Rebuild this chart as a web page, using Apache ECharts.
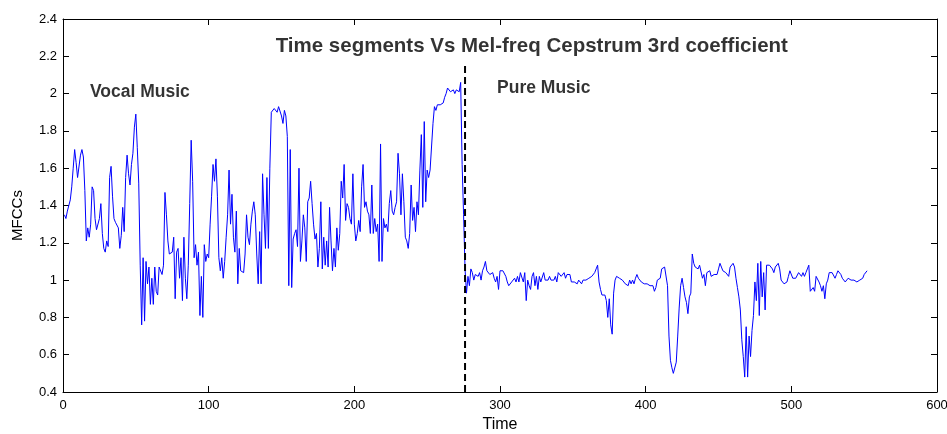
<!DOCTYPE html>
<html>
<head>
<meta charset="utf-8">
<title>Time segments Vs Mel-freq Cepstrum 3rd coefficient</title>
<script src="https://cdn.jsdelivr.net/npm/echarts@6/dist/echarts.min.js"></script>
<style>
  html, body { margin: 0; padding: 0; background: #fff; }
  #chart { width: 947px; height: 434px; }
</style>
</head>
<body>
<div id="chart"></div>
<script>
// 3rd mel-frequency cepstral coefficient per time segment (segments 1..552)
const startTime = 1;
const mfcc3 = [
  // vocal music, segments 1-137
  1.35,1.33,1.37,1.38,1.43,1.50,1.60,1.70,1.63,1.55,
  1.54,1.67,1.70,1.66,1.48,1.21,1.28,1.23,1.30,1.50,
  1.48,1.33,1.27,1.28,1.33,1.41,1.25,1.17,1.15,1.21,
  1.18,1.55,1.61,1.45,1.33,1.31,1.32,1.28,1.17,1.24,
  1.39,1.26,1.55,1.67,1.57,1.51,1.62,1.68,1.82,1.89,
  1.71,1.52,1.08,0.76,1.12,0.78,1.10,0.98,1.07,0.87,
  1.01,0.87,1.07,0.94,0.92,1.07,1.08,1.03,1.08,1.47,
  1.35,1.21,1.14,1.15,1.15,1.23,0.90,1.15,1.17,1.01,
  1.12,0.89,1.23,1.01,0.90,1.08,1.41,1.75,1.53,1.12,
  1.19,1.08,1.15,0.81,1.02,0.80,1.19,1.10,1.14,1.12,
  1.30,1.45,1.62,1.53,1.65,1.45,1.12,1.05,1.12,1.01,
  1.10,1.23,1.35,1.59,1.30,1.46,1.23,1.15,1.37,0.98,
  1.17,1.05,1.05,1.04,1.14,1.35,1.23,1.19,1.30,1.37,
  1.42,1.35,1.14,0.98,1.26,0.98,1.57,
  // vocal music, segments 138-275
  1.35,1.17,1.55,1.17,1.60,1.90,1.91,1.92,1.93,1.90,
  1.93,1.92,1.88,1.84,1.91,1.88,1.77,0.97,1.70,0.96,
  1.22,1.25,1.27,1.18,1.60,1.10,1.21,1.35,1.28,1.10,
  1.42,1.44,1.53,1.41,1.30,1.22,1.25,1.07,1.17,1.42,
  1.06,1.23,1.08,1.21,1.07,1.39,1.21,1.05,1.17,1.07,
  1.28,1.16,1.25,1.53,1.44,1.62,1.32,1.41,1.39,1.33,
  1.30,1.57,1.30,1.21,1.25,1.32,1.26,1.50,1.62,1.39,
  1.42,1.37,1.35,1.25,1.51,1.25,1.33,1.26,1.30,1.10,
  1.73,1.10,1.33,1.28,1.30,1.26,1.41,1.48,1.37,1.35,
  1.39,1.42,1.68,1.57,1.35,1.57,1.42,1.23,1.21,1.17,
  1.25,1.51,1.32,1.39,1.26,1.42,1.35,1.59,1.78,1.39,
  1.85,1.42,1.59,1.55,1.59,1.60,1.84,1.93,1.91,1.94,
  1.93,1.94,1.93,1.95,1.98,2.00,2.03,2.02,2.01,2.02,
  2.02,2.00,2.02,2.02,2.01,2.06,1.62,1.35,
  // pure music, segments 276-552
  1.06,0.93,1.02,0.97,1.06,1.04,1.00,1.03,1.04,1.02,
  1.04,1.00,1.05,1.07,1.10,1.05,1.04,1.03,1.04,1.04,
  1.01,0.99,1.02,0.95,1.05,1.06,1.05,1.06,1.02,0.99,
  0.97,0.97,0.99,1.00,1.01,0.99,1.02,0.99,1.04,1.05,
  0.99,1.04,0.89,1.00,0.97,0.95,1.02,1.04,0.97,1.02,
  0.95,1.02,0.99,1.00,1.04,1.00,1.01,1.00,1.02,1.00,
  0.99,1.00,1.02,0.99,1.04,1.03,1.02,1.02,1.04,1.01,
  1.03,1.02,1.03,0.99,1.00,0.99,0.99,0.98,1.00,0.99,
  0.98,1.00,1.00,1.00,1.01,1.01,1.02,1.02,1.03,1.04,
  1.06,1.08,0.99,0.95,0.92,0.92,0.92,0.89,0.80,0.90,
  0.76,0.71,0.93,1.00,1.02,1.03,1.01,1.01,1.00,0.99,
  0.98,0.99,0.97,1.00,0.98,1.00,0.98,1.01,1.03,1.01,
  1.00,0.99,1.00,0.98,0.99,0.98,0.97,0.97,0.96,0.97,
  0.94,0.96,1.00,0.99,1.01,1.06,1.07,1.07,1.06,0.97,
  0.70,0.57,0.53,0.50,0.49,0.56,0.70,0.85,0.97,1.01,
  0.96,0.91,0.88,0.82,0.91,0.93,1.14,1.09,1.07,1.07,
  1.06,1.08,1.07,1.01,1.03,0.97,1.04,1.05,1.05,1.02,
  1.03,1.03,1.02,1.03,1.06,1.09,1.07,1.05,1.05,1.04,
  1.03,1.02,1.07,1.08,1.09,1.07,1.01,0.96,0.91,0.84,
  0.68,0.59,0.48,0.75,0.48,0.70,0.59,0.73,0.81,0.99,
  0.89,1.09,0.81,1.10,0.91,1.04,0.84,1.08,1.09,1.08,
  1.09,1.06,1.04,1.07,1.08,1.09,1.06,1.00,0.99,0.98,
  0.97,0.99,1.02,1.05,1.06,1.01,1.00,1.01,1.02,1.04,
  1.03,1.02,1.04,1.02,1.04,1.06,1.08,0.94,0.95,0.96,
  0.94,1.02,1.03,0.99,0.97,0.94,0.97,0.90,0.98,1.00,
  1.04,1.03,1.04,1.04,1.01,1.03,1.05,1.05,1.03,1.01,
  1.00,0.99,0.99,1.01,1.00,1.00,1.00,1.00,1.00,0.99,
  0.99,1.00,0.99,1.01,1.03,1.04,1.05
];

// boundary between the vocal and the pure-music recording
const boundaryTime = 276;
const boundarySpan = [0.4, 2.16];

// axis ranges and tick steps
const timeRange = [0, 600];
const timeStep = 100;
const mfccRange = [0.4, 2.4];
const mfccStep = 0.2;

// text annotations placed in data coordinates
const notes = [
  { text: 'Time segments Vs Mel-freq Cepstrum 3rd coefficient', at: [146, 2.255], size: 20.5 },
  { text: 'Vocal Music', at: [18.5, 2.008], size: 17.5 },
  { text: 'Pure Music', at: [298, 2.03], size: 17.5 }
];

const FONT = '"Liberation Sans", Arial, Helvetica, sans-serif';
const BLACK = '#000000';

const seriesPoints = mfcc3.map((v, i) => [startTime + i, v]);

function makeXAxis(pos, showLabels) {
  return {
    type: 'value', position: pos,
    min: timeRange[0], max: timeRange[1], interval: timeStep,
    name: showLabels ? 'Time' : '',
    nameLocation: 'middle', nameGap: 24,
    nameTextStyle: { color: BLACK, fontFamily: FONT, fontSize: 16 },
    axisLine: { show: true, onZero: false, lineStyle: { color: BLACK, width: 1 } },
    axisTick: { show: true, inside: true, length: 6, lineStyle: { color: BLACK, width: 1 } },
    axisLabel: { show: showLabels, color: BLACK, fontFamily: FONT, fontSize: 13, margin: 7 },
    splitLine: { show: false }
  };
}
function makeYAxis(pos, showLabels) {
  return {
    type: 'value', position: pos,
    min: mfccRange[0], max: mfccRange[1], interval: mfccStep,
    name: showLabels ? 'MFCCs' : '',
    nameLocation: 'middle', nameGap: 38, nameRotate: 90,
    nameTextStyle: { color: BLACK, fontFamily: FONT, fontSize: 15, padding: [0, 20, 0, 0] },
    axisLine: { show: true, onZero: false, lineStyle: { color: BLACK, width: 1 } },
    axisTick: { show: true, inside: true, length: 6, lineStyle: { color: BLACK, width: 1 } },
    axisLabel: { show: showLabels, color: BLACK, fontFamily: FONT, fontSize: 13, margin: 6,
                 formatter: v => String(Math.round(v * 10) / 10) },
    splitLine: { show: false }
  };
}

const chart = echarts.init(document.getElementById('chart'), null, { renderer: 'canvas' });
chart.setOption({
  animation: false,
  backgroundColor: '#ffffff',
  grid: { left: 63, right: 10, top: 19, bottom: 42, containLabel: false, outerBoundsMode: 'none' },
  xAxis: [makeXAxis('bottom', true), makeXAxis('top', false)],
  yAxis: [makeYAxis('left', true), makeYAxis('right', false)],
  series: [
    {
      name: 'MFCC 3',
      type: 'line',
      data: seriesPoints,
      showSymbol: false,
      lineStyle: { color: '#0000ff', width: 1 },
      z: 3
    },
    {
      name: 'boundary',
      type: 'line',
      data: [[boundaryTime, boundarySpan[0]], [boundaryTime, boundarySpan[1]]],
      showSymbol: false,
      lineStyle: { color: BLACK, width: 2, type: [7, 4] },
      z: 4
    },
    {
      name: 'notes',
      type: 'scatter',
      symbolSize: 0,
      data: notes.map(n => ({
        value: n.at,
        label: {
          show: true, position: 'right', distance: 0,
          formatter: n.text, color: BLACK, fontFamily: FONT,
          fontWeight: 'bold', fontSize: n.size
        }
      })),
      z: 5
    }
  ]
});
</script>
</body>
</html>
